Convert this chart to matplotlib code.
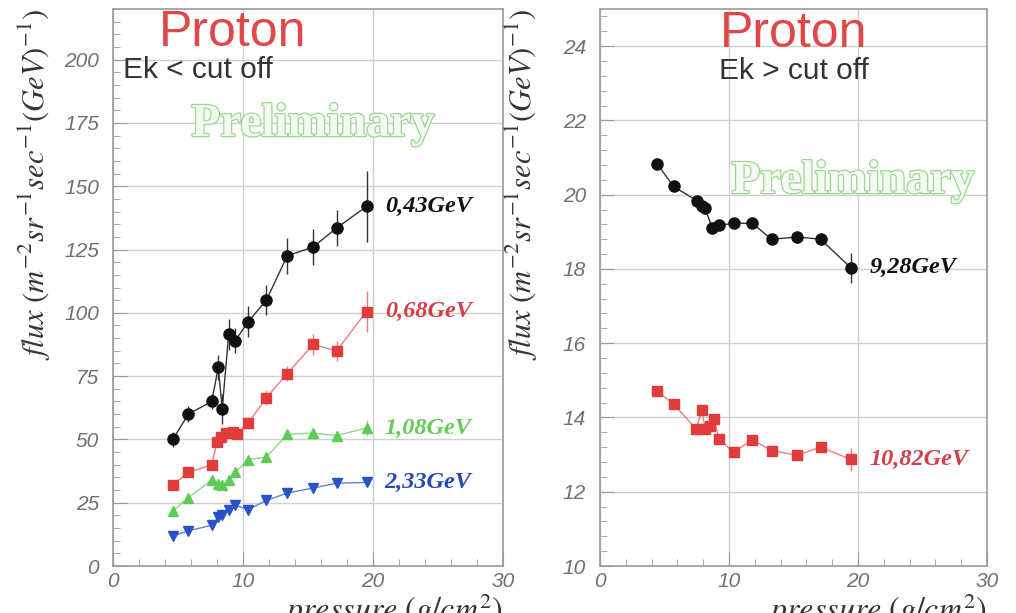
import matplotlib
matplotlib.use("Agg")
import matplotlib.pyplot as plt
import matplotlib.patheffects as pe
from matplotlib.ticker import MultipleLocator

# ---- data ----
# left panel: Ek < cut off
p_043 = [4.6, 5.8, 7.6, 8.1, 8.4, 8.9, 9.4, 10.4, 11.8, 13.4, 15.4, 17.2, 19.5]
f_043 = [50.0, 60.0, 65.0, 78.5, 62.0, 91.5, 89.0, 96.5, 105.0, 122.5, 126.0, 133.5, 142.0]
e_043 = [3, 3, 3, 5, 6, 6, 5, 6, 6, 7, 7, 7, 14]

p_068 = [4.6, 5.8, 7.6, 8.0, 8.3, 8.7, 9.2, 9.5, 10.4, 11.8, 13.4, 15.4, 17.2, 19.5]
f_068 = [32.0, 37.0, 40.0, 49.0, 51.0, 52.5, 53.0, 52.0, 56.5, 66.5, 76.0, 87.5, 85.0, 100.5]
e_068 = [1.5, 1.5, 1.5, 2, 2, 2, 2, 2, 2.5, 3, 3, 4, 4, 8]

p_108 = [4.6, 5.8, 7.6, 8.1, 8.4, 8.9, 9.4, 10.4, 11.8, 13.4, 15.4, 17.2, 19.5]
f_108 = [21.7, 27.0, 34.0, 32.5, 31.8, 34.0, 37.0, 42.0, 43.0, 52.0, 52.5, 51.5, 54.5]
e_108 = [1, 1, 1, 1, 1, 1, 1, 1.5, 1.5, 1.5, 1.5, 1.5, 3]

p_233 = [4.6, 5.8, 7.6, 8.1, 8.4, 8.9, 9.4, 10.4, 11.8, 13.4, 15.4, 17.2, 19.5]
f_233 = [11.8, 13.9, 16.1, 19.4, 20.0, 22.3, 24.0, 22.3, 25.9, 28.8, 30.8, 32.7, 33.0]
e_233 = [0.8, 0.8, 0.8, 1, 1, 1, 1, 1, 1, 1, 1, 1, 1.5]

# right panel: Ek > cut off
p_928 = [4.45, 5.7, 7.5, 7.9, 8.15, 8.7, 9.2, 10.35, 11.8, 13.3, 15.3, 17.1, 19.45]
f_928 = [20.82, 20.22, 19.84, 19.70, 19.63, 19.10, 19.17, 19.23, 19.23, 18.80, 18.86, 18.80, 18.03]
e_928 = [0.1, 0.1, 0.12, 0.15, 0.15, 0.15, 0.15, 0.12, 0.12, 0.15, 0.15, 0.15, 0.4]

p_1082 = [4.45, 5.7, 7.45, 7.9, 8.15, 8.5, 8.8, 9.25, 10.35, 11.8, 13.3, 15.3, 17.1, 19.45]
f_1082 = [14.70, 14.36, 13.69, 14.20, 13.69, 13.78, 13.96, 13.42, 13.06, 13.40, 13.11, 12.98, 13.20, 12.87]
e_1082 = [0.08, 0.08, 0.1, 0.12, 0.12, 0.12, 0.12, 0.1, 0.1, 0.1, 0.1, 0.1, 0.1, 0.3]

# (x, y, label) for the energy tags
left_tags = [(20.9, 142.0, "0,43GeV"), (20.9, 100.5, "0,68GeV"),
             (20.9, 54.5, "1,08GeV"), (20.9, 33.0, "2,33GeV")]
right_tags = [(20.9, 18.03, "9,28GeV"), (20.9, 12.87, "10,82GeV")]

black = "#111111"
red = "#e03c3c"
green = "#5ccc55"
blue = "#2a52c8"
gray = "#9a9a9a"

plt.rcParams["mathtext.fontset"] = "stix"

fig = plt.figure(figsize=(10.16, 6.13), dpi=100)
ax1 = fig.add_axes([113 / 1016, 47 / 613, 390 / 1016, 557 / 613])
ax2 = fig.add_axes([600 / 1016, 47 / 613, 387 / 1016, 557 / 613])


def style(ax, ymajor, yminor):
    ax.set_xlim(0, 30)
    ax.xaxis.set_major_locator(MultipleLocator(10))
    ax.xaxis.set_minor_locator(MultipleLocator(2))
    ax.yaxis.set_major_locator(MultipleLocator(ymajor))
    ax.yaxis.set_minor_locator(MultipleLocator(yminor))
    ax.grid(True, which="major", color="#d0d0d0", lw=1.0)
    ax.set_axisbelow(True)
    for s in ax.spines.values():
        s.set_color(gray)
        s.set_linewidth(1.2)
    ax.tick_params(which="both", direction="in", colors=gray,
                   labelcolor="#707070")
    ax.tick_params(which="major", length=10)
    ax.tick_params(which="minor", length=5)
    ax.tick_params(axis="y", pad=10)
    ax.tick_params(axis="x", pad=4)
    for lab in ax.get_xticklabels() + ax.get_yticklabels():
        lab.set_fontfamily("Liberation Sans")
        lab.set_fontstyle("italic")
        lab.set_fontsize(15)
    ax.set_ylabel(r"$flux\ (m^{-2}sr^{-1}sec^{-1}(GeV)^{-1})$",
                  fontsize=22, loc="top", color="#333333")
    ax.set_xlabel(r"$pressure\ (g/cm^{2})$", fontsize=23, loc="right",
                  color="#333333")
    ax.xaxis.set_label_coords(1.0, -0.045)


def series(ax, x, y, e, color, marker, ms, lc):
    ax.errorbar(x, y, yerr=e, color=lc, ecolor=lc, lw=1.0, elinewidth=1.0,
                marker=marker, ms=ms, mfc=color, mec=color, capsize=0, zorder=3)


def tag(ax, tags, colors):
    for (x, y, t), c in zip(tags, colors):
        ax.text(x, y, t, color=c, fontsize=17.5, fontfamily="Liberation Serif",
                fontweight="bold", fontstyle="italic", va="center", ha="left")


# left panel
series(ax1, p_043, f_043, e_043, black, "o", 8, "#333333")
series(ax1, p_068, f_068, e_068, red, "s", 7.5, "#e88080")
series(ax1, p_108, f_108, e_108, green, "^", 7, "#88dd80")
series(ax1, p_233, f_233, e_233, blue, "v", 7, "#6080d8")
style(ax1, 25, 5)
ax1.set_ylim(0, 220)
tag(ax1, left_tags, [black, "#d04048", "#66cc55", "#2848b8"])
ax1.yaxis.set_label_coords(-0.155, 1.0)

# right panel
series(ax2, p_928, f_928, e_928, black, "o", 8, "#333333")
series(ax2, p_1082, f_1082, e_1082, red, "s", 7.5, "#e88080")
style(ax2, 2, 0.4)
ax2.set_ylim(10, 25)
tag(ax2, right_tags, [black, "#d04048"])
ax2.yaxis.set_label_coords(-0.155, 1.0)

# annotations
hollow = [pe.Stroke(linewidth=1.8, foreground="#9ad890"), pe.Normal()]
fig.text(233 / 1016, 1 - 46 / 613, "Proton", color="#e04848", fontsize=36,
         fontfamily="Liberation Sans", ha="center", va="baseline")
fig.text(794 / 1016, 1 - 47 / 613, "Proton", color="#e04848", fontsize=36,
         fontfamily="Liberation Sans", ha="center", va="baseline")
fig.text(123 / 1016, 1 - 78 / 613, "Ek < cut off", color="#333333",
         fontsize=21.5, fontfamily="Liberation Sans", ha="left", va="baseline")
fig.text(794 / 1016, 1 - 79 / 613, "Ek > cut off", color="#333333",
         fontsize=21.5, fontfamily="Liberation Sans", ha="center", va="baseline")
fig.text(313 / 1016, 1 - 125 / 613, "Preliminary", color="#f4fbf2",
         fontsize=34, fontfamily="Liberation Serif", fontweight="bold",
         ha="center", va="center", path_effects=hollow)
fig.text(853 / 1016, 1 - 182 / 613, "Preliminary", color="#f4fbf2",
         fontsize=34, fontfamily="Liberation Serif", fontweight="bold",
         ha="center", va="center", path_effects=hollow)

fig.savefig("out.png", dpi=100)
